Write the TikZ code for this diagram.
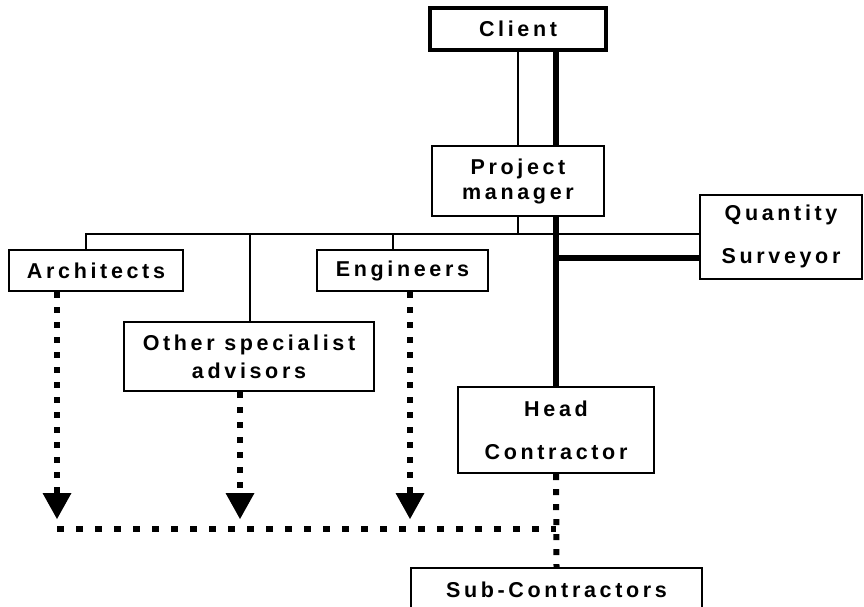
\documentclass[tikz,border=0pt]{standalone}
\usepackage{fontspec}
\setmainfont{Liberation Sans}
\newfontfamily\lblfont[LetterSpace=17]{Liberation Sans}
\usetikzlibrary{arrows.meta}

\tikzset{
  orgbox/.style={draw, line width=2pt, inner sep=0pt, align=center,
    font=\lblfont\bfseries\fontsize{21.5}{26}\selectfont},
  linkthin/.style={line width=1.5pt},
  linkthick/.style={line width=6pt},
  dotdown/.style={line width=6pt, dash pattern=on 6pt off 9pt,
    -{Triangle[width=29pt,length=26pt,line width=0pt]}},
  dotplain/.style={line width=6pt, dash pattern=on 6pt off 9pt},
  dotacross/.style={line width=6pt, dash pattern=on 7pt off 12pt}
}

\begin{document}
\begin{tikzpicture}[x=1pt,y=-1pt]
  \fill[white] (0,0) rectangle (864,607);
  \clip (0,0) rectangle (864,607);

  % organisation boxes
  \node[orgbox, line width=3.5pt, minimum width=176, minimum height=42] (client) at (518,29) {Client};
  \node[orgbox, minimum width=172, minimum height=70] (pm) at (518,181) {Project\\[-1pt]manager};
  \node[orgbox, minimum width=162, minimum height=84] (qs) at (781,236.5) {Quantity\\[17pt]Surveyor};
  \node[orgbox, minimum width=174, minimum height=41] (arch) at (96,270.5) {Architects};
  \node[orgbox, minimum width=171, minimum height=41] (eng) at (402.5,270.5) {Engineers};
  \node[orgbox, minimum width=250, minimum height=69] (other) at (249,356.5) {Other specialist\\[2pt]advisors};
  \node[orgbox, line width=2.4pt, minimum width=196, minimum height=86] (head) at (556,430) {Head\\[17pt]Contractor};
  \node[orgbox, minimum width=291, minimum height=44] (sub) at (556.5,590) {Sub-Contractors};

  % reference points for the bus and the dotted arrows
  \coordinate (bus) at (0,234);
  \coordinate (a1) at (57,519);
  \coordinate (a2) at (240,519);
  \coordinate (a3) at (410,519);
  \coordinate (h1) at (57,529);

  % thin lines
  \draw[linkthin] (client.south) -- (pm.north);
  \draw[linkthin] (pm.south) -- (pm.south |- bus);
  \draw[linkthin] ([xshift=-10pt]arch.north) -- ([xshift=-10pt]arch.north |- bus)
                  -- (qs.west |- bus);
  \draw[linkthin] ([xshift=1pt]other.north) -- ([xshift=1pt]other.north |- bus);
  \draw[linkthin] ([xshift=-9.5pt]eng.north) -- ([xshift=-9.5pt]eng.north |- bus);

  % thick lines
  \draw[linkthick] ([xshift=38pt]client.south) -- ([xshift=38pt]pm.north);
  \draw[linkthick] ([xshift=38pt]pm.south) -- (head.north);
  \draw[linkthick] ([yshift=-21.5pt]qs.west) -- ([yshift=-21.5pt]qs.west -| head.north);

  % dotted lines
  \draw[dotdown] (arch.south -| a1) -- (a1);
  \draw[dotdown] (other.south -| a2) -- (a2);
  \draw[dotdown] (eng.south -| a3) -- (a3);
  \draw[dotplain] (head.south) -- (sub.north);
  \draw[dotacross] (h1) -- (h1 -| head.south);
\end{tikzpicture}
\end{document}
